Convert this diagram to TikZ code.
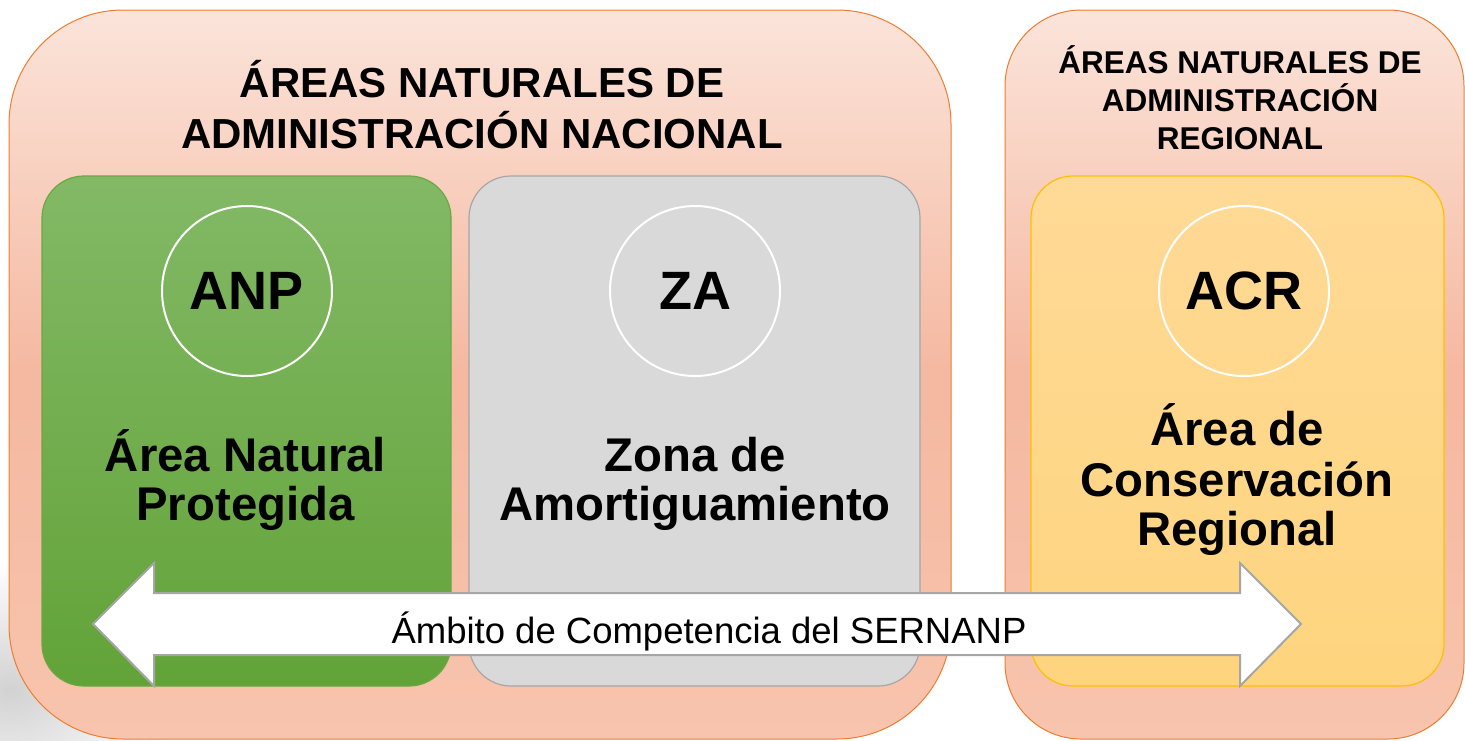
\documentclass[tikz,border=0pt]{standalone}
\usepackage{fontspec}
\setmainfont{Liberation Sans}
\definecolor{outerTop}{HTML}{FBE4DA}
\definecolor{outerMid}{HTML}{F5B8A0}
\definecolor{outerBot}{HTML}{F8C4AD}
\definecolor{outerLine}{HTML}{ED7D31}
\definecolor{greenTop}{HTML}{83B966}
\definecolor{greenBot}{HTML}{62A338}
\definecolor{greenLine}{HTML}{6AA843}
\definecolor{grayFill}{HTML}{D9D9D9}
\definecolor{grayLine}{HTML}{A6A6A6}
\definecolor{yelTop}{HTML}{FFDA97}
\definecolor{yelBot}{HTML}{FED47E}
\definecolor{yelLine}{HTML}{FFC000}
\definecolor{mist}{HTML}{D2D2D2}
\tikzset{
  outerbox/.style={rectangle, anchor=north west, inner sep=0pt, outer sep=0pt,
    draw=outerLine, line width=1pt, top color=outerTop, bottom color=outerBot, middle color=outerMid},
  innerbox/.style={rectangle, anchor=north west, inner sep=0pt, outer sep=0pt,
    rounded corners=42pt, line width=1.2pt, minimum height=510pt},
  ring/.style={circle, draw=white, line width=2pt, minimum size=170pt, inner sep=0pt,
    font=\fontsize{54}{60}\selectfont\bfseries},
  bigtitle/.style={anchor=base, inner sep=0pt, font=\fontsize{42}{50}\selectfont\bfseries},
  smalltitle/.style={anchor=base, inner sep=0pt, font=\fontsize{31.5}{38}\selectfont\bfseries},
  bodytext/.style={anchor=base, inner sep=0pt, font=\fontsize{47.3}{50}\selectfont\bfseries},
  arrowtext/.style={anchor=base, inner sep=0pt, font=\fontsize{36.5}{40}\selectfont},
  blockarrow/.style={draw=grayLine, line width=2pt, fill=white, line join=miter}
}
\begin{document}
\begin{tikzpicture}[x=1pt, y=-1pt]
\useasboundingbox (0,0) rectangle (1465,740);
\fill[white] (0,0) rectangle (1465,740);
% faint misty background in the lower left
\begin{scope}
\clip (0,520) rectangle (260,740);
\shade[inner color=mist, outer color=white] (10,690) ellipse [x radius=170pt, y radius=130pt];
\end{scope}

% outer boxes
\node[outerbox, rounded corners=114pt, minimum width=942pt, minimum height=729pt] (nac) at (9,10) {};
\node[outerbox, rounded corners=76pt, minimum width=459pt, minimum height=729pt] (reg) at (1005,10) {};

% titles
\node[bigtitle] (nacA) at (482,97) {ÁREAS NATURALES DE};
\node[bigtitle] (nacB) at (482,148) {ADMINISTRACIÓN NACIONAL};
\node[smalltitle] (regA) at (1240,73) {ÁREAS NATURALES DE};
\node[smalltitle] (regB) at (1240,111) {ADMINISTRACIÓN};
\node[smalltitle] (regC) at (1240,149) {REGIONAL};

% inner boxes
\node[innerbox, minimum width=409pt, draw=greenLine, top color=greenTop, bottom color=greenBot] (anpbox) at (42,176) {};
\node[innerbox, minimum width=451pt, draw=grayLine, fill=grayFill] (zabox) at (469,176) {};
\node[innerbox, minimum width=413pt, draw=yelLine, top color=yelTop, bottom color=yelBot] (acrbox) at (1031,176) {};

% circles
\node[ring] (anp) at (247,291) {ANP};
\node[ring] (za) at (695,291) {ZA};
\node[ring] (acr) at (1244,291) {ACR};

% body texts
\node[bodytext] (anpA) at (245.5,471) {Área Natural};
\node[bodytext] (anpB) at (245.5,520) {Protegida};
\node[bodytext] (zaA) at (695,471) {Zona de};
\node[bodytext] (zaB) at (695,520) {Amortiguamiento};
\node[bodytext] (acrA) at (1237,445) {Área de};
\node[bodytext] (acrB) at (1237,496) {Conservación};
\node[bodytext] (acrC) at (1237,545) {Regional};

% double block arrow
\coordinate (tipL) at (93,624);
\coordinate (tipR) at (1301,624);
\draw[blockarrow] (tipL) -- (154,563) -- (154,593) -- (1240,593) -- (1240,563) -- (tipR)
  -- (1240,686) -- (1240,655) -- (154,655) -- (154,686) -- cycle;
\node[arrowtext] (sernanp) at (709,643) {Ámbito de Competencia del SERNANP};
\end{tikzpicture}
\end{document}
